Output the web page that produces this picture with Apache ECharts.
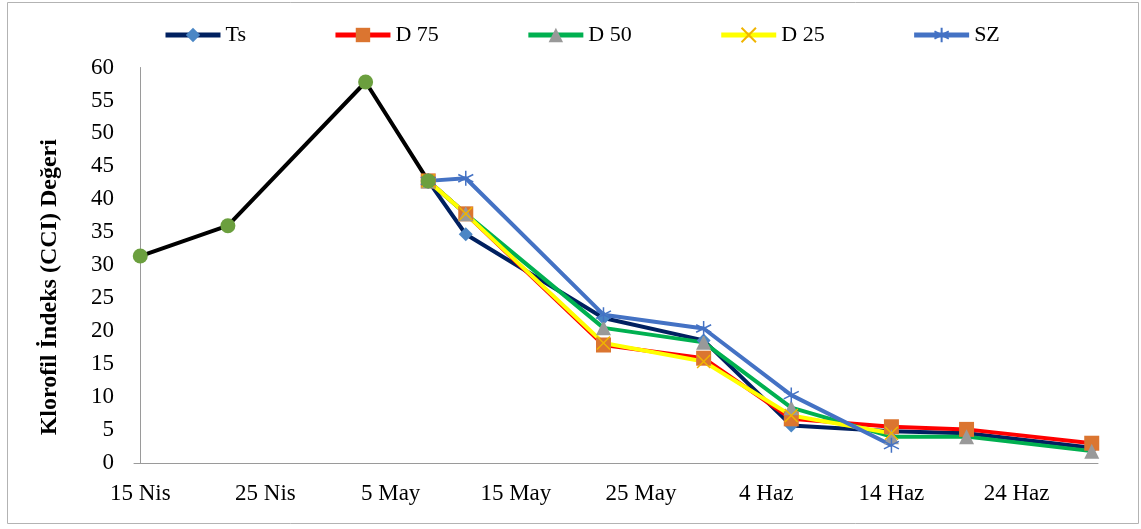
<!DOCTYPE html>
<html>
<head>
<meta charset="utf-8">
<script src="https://cdn.jsdelivr.net/npm/echarts@6/dist/echarts.min.js"></script>
<style>
  html, body { margin: 0; padding: 0; background: #fff; }
  #chart { width: 1141px; height: 529px; }
</style>
</head>
<body>
<div id="chart"></div>
<script>
// Measurement dates (month-day) and chlorophyll index (CCI) readings
const preDates = ['04-15', '04-22', '05-03', '05-08'];
const preValues = [31.4, 36.0, 57.8, 42.8];

const trtDates = ['05-08', '05-11', '05-22', '05-30', '06-06', '06-14', '06-20', '06-30'];
const tsValues  = [42.8, 34.7, 22.0, 18.6, 5.7, 4.8, 4.5, 2.3];
const d75Values = [42.8, 37.8, 17.9, 15.9, 6.7, 5.5, 5.1, 3.0];
const d50Values = [42.8, 37.8, 20.5, 18.3, 8.4, 4.0, 4.0, 1.8];
const d25Values = [42.8, 37.8, 18.2, 15.4, 7.2, 4.5, null, null];
const szValues  = [42.8, 43.2, 22.5, 20.4, 10.3, 2.7, null, null];

const seriesNames = ['Ts', 'D 75', 'D 50', 'D 25', 'SZ'];

const xTickDays = [0, 10, 20, 30, 40, 50, 60, 70];
const xTickLabels = ['15 Nis', '25 Nis', '5 May', '15 May', '25 May', '4 Haz', '14 Haz', '24 Haz'];

// days counted from 15 April
function dayIndex(md) {
  const [m, d] = md.split('-').map(Number);
  return (Date.UTC(2020, m - 1, d) - Date.UTC(2020, 3, 15)) / 86400000;
}
function pairs(dates, values) {
  return dates.map((d, i) => [dayIndex(d), values[i]]);
}

const SERIF = '"Liberation Serif", "Times New Roman", serif';

const xMarker = 'path://M0,0 L10,10 M0,10 L10,0';
const starMarker = 'path://M5,0 L5,10 M0.7,2.5 L9.3,7.5 M0.7,7.5 L9.3,2.5';
const plusMarker = 'path://M5,0 L5,10 M0,5 L10,5';

function trtSeries(name, values, lineColor, symbol, size, itemStyle) {
  return {
    name: name,
    type: 'line',
    data: pairs(trtDates, values),
    connectNulls: false,
    symbol: symbol,
    symbolSize: size,
    showAllSymbol: true,
    lineStyle: { color: lineColor, width: 4 },
    itemStyle: itemStyle,
    emphasis: { disabled: true },
    animation: false
  };
}

const chart = echarts.init(document.getElementById('chart'));
chart.setOption({
  backgroundColor: '#ffffff',
  animation: false,
  graphic: [{
    type: 'rect',
    shape: { x: 7.5, y: 2.5, width: 1131, height: 521 },
    style: { fill: 'none', stroke: '#b3b3b3', lineWidth: 1 },
    silent: true
  }],
  grid: { left: 134, right: 43, top: 67.5, bottom: 66, containLabel: false },
  legend: {
    data: seriesNames,
    left: 158,
    top: 19,
    itemWidth: 55,
    itemHeight: 18,
    itemGap: 87,
    lineStyle: { width: 5 },
    textStyle: { fontFamily: SERIF, fontSize: 22, color: '#000' }
  },
  xAxis: {
    type: 'value',
    min: -0.5,
    max: 76.5,
    axisLine: { show: true, lineStyle: { color: '#9a9a9a', width: 1 } },
    axisTick: { show: false },
    splitLine: { show: false },
    axisLabel: {
      customValues: xTickDays,
      margin: 19,
      fontFamily: SERIF,
      fontSize: 23,
      color: '#000',
      formatter: function (v) {
        const i = xTickDays.indexOf(Math.round(v));
        return i >= 0 ? xTickLabels[i] : '';
      }
    }
  },
  yAxis: {
    type: 'value',
    min: 0,
    max: 60,
    interval: 5,
    name: 'Klorofil İndeks (CCI) Değeri',
    nameLocation: 'middle',
    nameRotate: 90,
    nameGap: 72,
    nameTextStyle: {
      fontFamily: SERIF, fontSize: 24, fontWeight: 'bold', color: '#000',
      padding: [0, 44, 0, 0]
    },
    axisLine: { show: true, lineStyle: { color: '#9a9a9a', width: 1 } },
    axisTick: { show: false },
    splitLine: { show: false },
    axisLabel: { margin: 20, fontFamily: SERIF, fontSize: 23, color: '#000' }
  },
  series: [
    trtSeries('Ts', tsValues, '#002060', 'diamond', 14, { color: '#4a86c5' }),
    trtSeries('D 75', d75Values, '#ff0000', 'rect', 15, { color: '#db7530' }),
    trtSeries('D 50', d50Values, '#00b050', 'triangle', 15, { color: '#999999' }),
    trtSeries('D 25', d25Values, '#ffff00', xMarker, 13,
      { color: '#f0b400', borderColor: '#f0b400', borderWidth: 1.5 }),
    trtSeries('SZ', szValues, '#4472c4', starMarker, 15,
      { color: '#4472c4', borderColor: '#4472c4', borderWidth: 1.5 }),
    {
      name: 'pre',
      type: 'line',
      data: pairs(preDates, preValues),
      symbol: 'circle',
      symbolSize: 15,
      lineStyle: { color: '#000000', width: 4 },
      itemStyle: { color: '#6b9f3e' },
      emphasis: { disabled: true },
      animation: false
    },
    {
      name: 'first',
      type: 'scatter',
      data: pairs(preDates.slice(0, 1), preValues.slice(0, 1)),
      symbol: plusMarker,
      symbolSize: 14,
      itemStyle: { color: '#9dc3e6', borderColor: '#9dc3e6', borderWidth: 1.5 },
      emphasis: { disabled: true },
      animation: false
    }
  ]
});
</script>
</body>
</html>
